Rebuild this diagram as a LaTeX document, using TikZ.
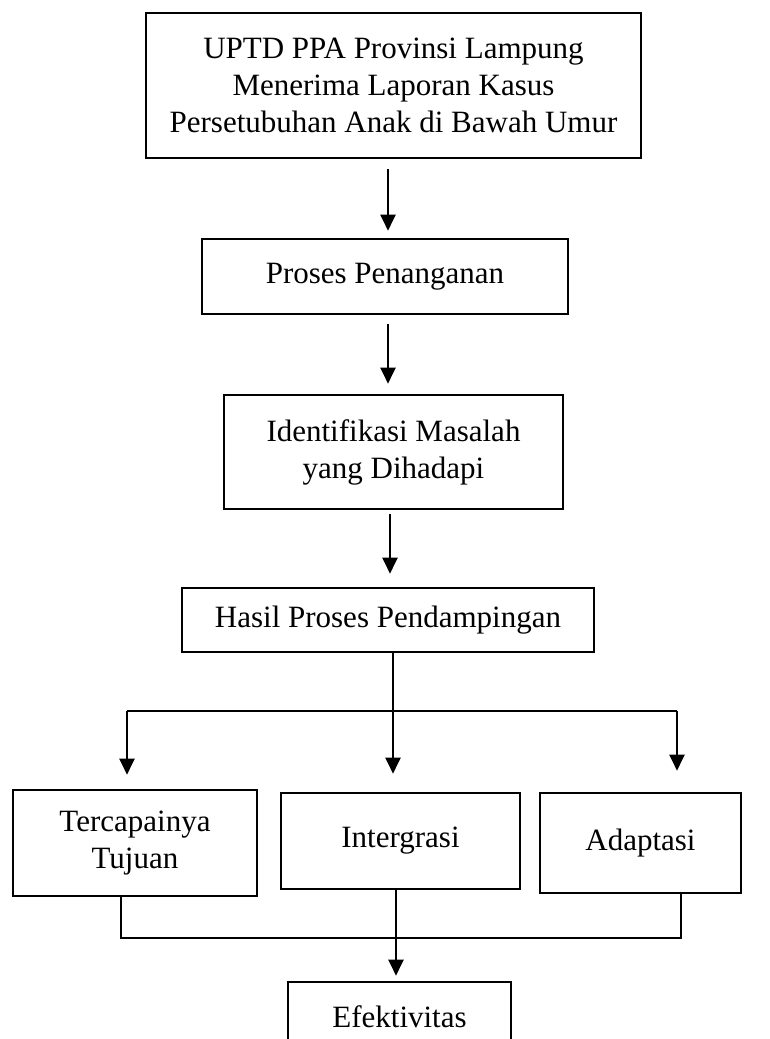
\documentclass[tikz,border=0pt]{standalone}
\usepackage{fontspec}
\setmainfont{Liberation Serif}
\usetikzlibrary{arrows.meta}

\begin{document}
\begin{tikzpicture}[x=0.5pt, y=-0.5pt,
    every node/.style={inner sep=0pt, rectangle, align=center, font=\fontsize{15.5}{18.5}\selectfont},
    field/.style={draw, line width=1.3pt, anchor=center},
    link/.style={line width=1pt},
    arrow/.style={link, -{Triangle[width=7.5pt, length=8pt]}}]
\useasboundingbox (0,0) rectangle (770,1039);
\clip (0,0) rectangle (770,1039);

\node [field, minimum width=247.5pt, minimum height=72.5pt] (lapor) at (393.5,85.5) {UPTD PPA Provinsi Lampung\\Menerima Laporan Kasus\\Persetubuhan Anak di Bawah Umur};
\node [field, minimum width=183pt, minimum height=37.5pt] (tangani) at (385,276.5) {Proses Penanganan};
\node [field, minimum width=169.5pt, minimum height=57pt] (identifikasi) at (393.5,452) {Identifikasi Masalah\\yang Dihadapi};
\node [field, minimum width=206pt, minimum height=32pt] (hasil) at (388,620) {Hasil Proses Pendampingan};
\node [field, minimum width=122pt, minimum height=53pt] (tujuan) at (135,843) {Tercapainya\\Tujuan};
\node [field, minimum width=119.5pt, minimum height=48pt] (integrasi) at (400.5,841) {Intergrasi};
\node [field, minimum width=100.5pt, minimum height=50pt] (adaptasi) at (640.5,843) {Adaptasi};
\node [field, minimum width=111.5pt, minimum height=35pt] (efektif) at (399.5,1017) {Efektivitas};

\coordinate (split) at (393,711);
\coordinate (busL) at (127,711);
\coordinate (busR) at (677,711);
\coordinate (joinL) at (121,938);
\coordinate (joinR) at (681,938);
\coordinate (merge) at (396,938);

\draw [arrow] ([xshift=-2.75pt, yshift=-5pt]lapor.south) -- ([xshift=1.5pt, yshift=3.5pt]tangani.north);
\draw [arrow] ([xshift=1.5pt, yshift=-4.5pt]tangani.south) -- ([xshift=-2.75pt, yshift=5pt]identifikasi.north);
\draw [arrow] ([xshift=-1.75pt, yshift=-2pt]identifikasi.south) -- ([xshift=1pt, yshift=6.5pt]hasil.north);

\draw [link] (hasil.south -| split) -- (split);
\draw [link] (busL) -- (busR);
\draw [arrow, shorten >=7pt] (busL) -- (busL |- tujuan.north);
\draw [arrow, shorten >=9pt] (split) -- (split |- integrasi.north);
\draw [arrow, shorten >=10.5pt] (busR) -- (busR |- adaptasi.north);

\draw [link] (tujuan.south -| joinL) -- (joinL) -- (joinR) -- (adaptasi.south -| joinR);
\draw [link] (integrasi.south -| merge) -- (merge);
\draw [arrow, shorten >=2.5pt] (merge) -- (efektif.north -| merge);

\end{tikzpicture}
\end{document}
